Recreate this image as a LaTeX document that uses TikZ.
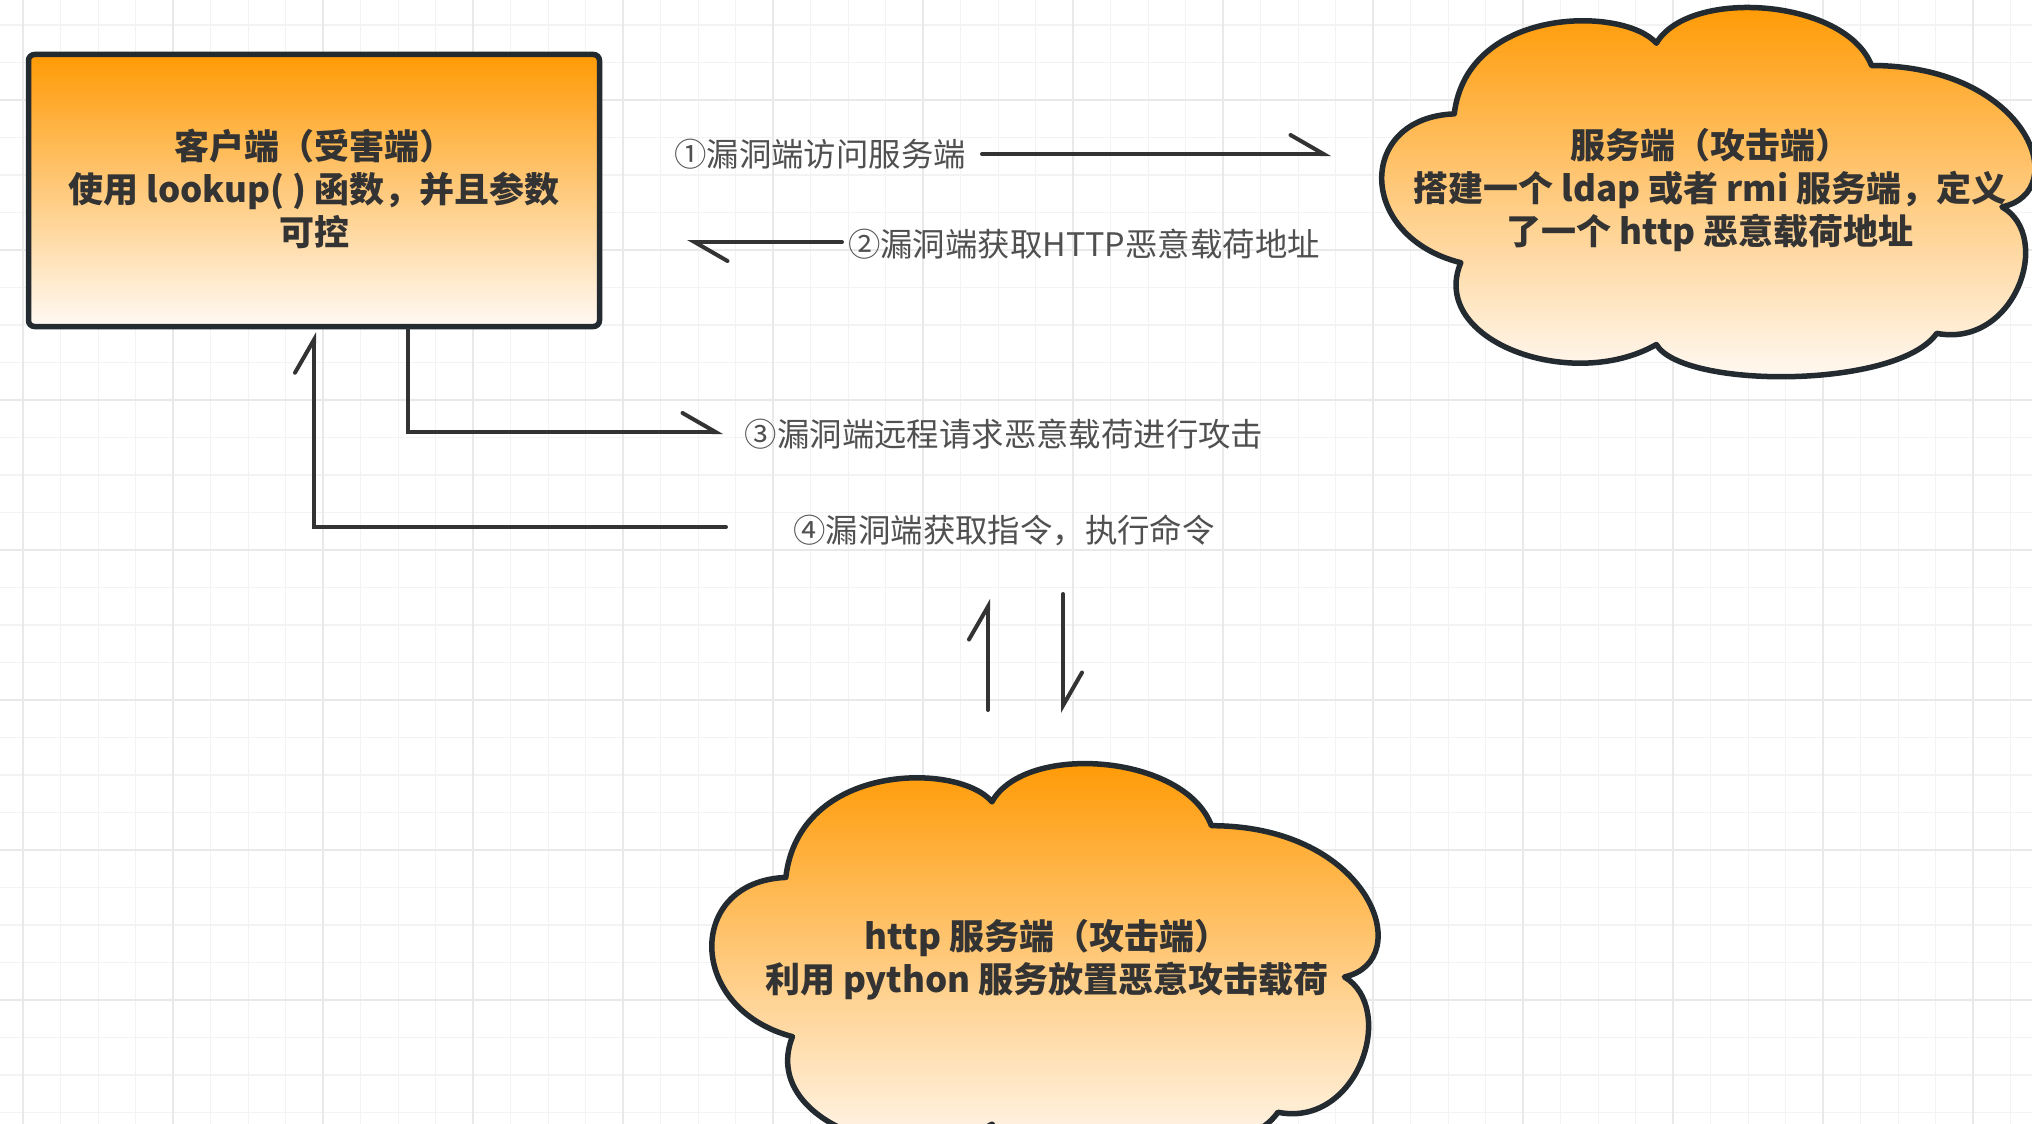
\documentclass[tikz,border=0pt]{standalone}
\usepackage{fontspec}
\setmainfont{Noto Sans CJK SC}
\usetikzlibrary{arrows.meta}
\definecolor{gridminor}{HTML}{F3F3F3}
\definecolor{gridmajor}{HTML}{E9E9E9}
\definecolor{edge}{HTML}{232B30}
\definecolor{wire}{HTML}{333333}
\definecolor{txt}{HTML}{333333}
\definecolor{lbl}{HTML}{505050}
\definecolor{orangetop}{HTML}{FF9A05}
\definecolor{orangebot}{HTML}{FFFAF5}
% cloud outline in a box: left x, top y, width, height (image pixels, y measured downwards)
\newcommand{\cloudat}[4]{({#1+0.12*#3},{-(#2+0.29*#4)})
 .. controls ({#1-0.03*#3},{-(#2+0.30*#4)}) and ({#1-0.03*#3},{-(#2+0.62*#4)}) .. ({#1+0.13*#3},{-(#2+0.69*#4)})
 .. controls ({#1+0.08*#3},{-(#2+0.90*#4)}) and ({#1+0.30*#3},{-(#2+1.04*#4)}) .. ({#1+0.43*#3},{-(#2+0.91*#4)})
 .. controls ({#1+0.47*#3},{-(#2+1.03*#4)}) and ({#1+0.80*#3},{-(#2+1.03*#4)}) .. ({#1+0.86*#3},{-(#2+0.88*#4)})
 .. controls ({#1+0.98*#3},{-(#2+0.92*#4)}) and ({#1+1.04*#3},{-(#2+0.62*#4)}) .. ({#1+0.96*#3},{-(#2+0.54*#4)})
 .. controls ({#1+1.07*#3},{-(#2+0.50*#4)}) and ({#1+1.00*#3},{-(#2+0.16*#4)}) .. ({#1+0.76*#3},{-(#2+0.16*#4)})
 .. controls ({#1+0.72*#3},{-(#2-0.02*#4)}) and ({#1+0.48*#3},{-(#2-0.05*#4)}) .. ({#1+0.43*#3},{-(#2+0.10*#4)})
 .. controls ({#1+0.38*#3},{-(#2+0.00*#4)}) and ({#1+0.14*#3},{-(#2+0.00*#4)}) .. ({#1+0.12*#3},{-(#2+0.29*#4)}) -- cycle}
% vertical gradient made of thin strips: left x, top y, width, height
\newcommand{\gradstrips}[4]{%
  \foreach \k in {0,...,99} {%
    \fill[orangebot!\k!orangetop] ({#1},{-(#2+#4/100*\k)}) rectangle ({#1+#3},{-(#2+#4/100*(\k+1.5))});
  }}
\tikzset{
  minorgrid/.style={draw=gridminor, line width=1.3pt},
  majorgrid/.style={draw=gridmajor, line width=2.2pt},
  outline/.style={draw=edge, line width=5.5pt, line join=round},
  boxtext/.style={text=txt, align=center, font=\fontsize{35}{43}\selectfont\bfseries},
  labeltext/.style={text=lbl, font=\fontsize{32.4}{38}\selectfont, inner sep=0pt, anchor=center},
  conn/.style={draw=wire, line width=4pt, line cap=round, line join=miter,
     -{Straight Barb[harpoon, length=33pt, width=38pt, line cap=round]}},
}
\begin{document}
\begin{tikzpicture}[x=1pt, y=1pt]
\useasboundingbox (0,0) rectangle (2032,-1124);
\fill[white] (0,0) rectangle (2032,-1124);
\clip (0,0) rectangle (2032,-1124);
% grid
\foreach \i in {0,...,54} { \draw[minorgrid] ({23.3+37.5*\i},0) -- ({23.3+37.5*\i},-1124); }
\foreach \i in {0,...,30} { \draw[minorgrid] (0,{-(25+37.5*\i)}) -- (2032,{-(25+37.5*\i)}); }
\foreach \i in {0,...,13} { \draw[majorgrid] ({23.3+150*\i},0) -- ({23.3+150*\i},-1124); }
\foreach \i in {0,...,7} { \draw[majorgrid] (0,{-(100+150*\i)}) -- (2032,{-(100+150*\i)}); }

% client box
\begin{scope}
  \clip[rounded corners=6pt] (28.5,-54.5) rectangle (599.5,-326.5);
  \gradstrips{26}{54.5}{576}{272}
\end{scope}
\node[outline, rounded corners=6pt, minimum width=571pt, minimum height=272pt, inner sep=0pt] (client) at (314,-190.5) {};
\node[boxtext] (clienttxt) at (314,-189) {客户端（受害端）\\使用 lookup( ) 函数，并且参数\\可控};

% server cloud
\begin{scope}
  \clip \cloudat{1376}{6}{652}{372};
  \gradstrips{1366}{4}{670}{376}
\end{scope}
\path[outline] \cloudat{1376}{6}{652}{372};
\node[boxtext] (srv) at (1710,-190) {服务端（攻击端）\\搭建一个 ldap 或者 rmi 服务端，定义\\了一个 http 恶意载荷地址};

% http cloud
\begin{scope}
  \clip \cloudat{706}{762}{665}{398};
  \gradstrips{696}{760}{685}{402}
\end{scope}
\path[outline] \cloudat{706}{762}{665}{398};
\node[boxtext] (http) at (1047,-960) {http 服务端（攻击端）\\利用 python 服务放置恶意攻击载荷};

% labels
\node[labeltext] (l1) at (820,-154) {①漏洞端访问服务端};
\node[labeltext] (l2) at (1084,-244) {②漏洞端获取HTTP恶意载荷地址};
\node[labeltext] (l3) at (1004,-434) {③漏洞端远程请求恶意载荷进行攻击};
\node[labeltext] (l4) at (1004,-530) {④漏洞端获取指令，执行命令};

% connector end points
\coordinate (a1s) at (982,-154);
\coordinate (a1e) at (1331,-154);
\coordinate (a2s) at (842,-242);
\coordinate (a2e) at (687,-242);
\coordinate (a3e) at (723,-432);
\coordinate (a4s) at (726,-527);
\coordinate (u1) at (988,-710);
\coordinate (u2) at (988,-599);
\coordinate (d1) at (1063,-594);
\coordinate (d2) at (1063,-713);

\draw[conn] (a1s) -- (a1e);
\draw[conn] (a2s) -- (a2e);
\draw[conn] ([xshift=94pt]client.south) |- (a3e);
\draw[conn] (a4s) -| ([yshift=-3pt]client.south);
\draw[conn] (u1) -- (u2);
\draw[conn] (d1) -- (d2);
\end{tikzpicture}
\end{document}
